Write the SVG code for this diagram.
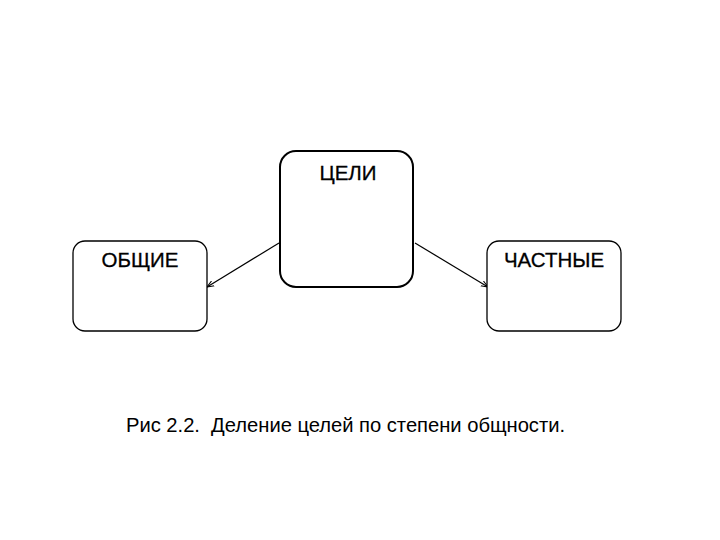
<svg xmlns="http://www.w3.org/2000/svg" width="720" height="540" viewBox="0 0 720 540">
<style>
.box{fill:#fff;stroke:#000;stroke-width:1.3}
.main{stroke-width:2}
.lbl{font-family:"Liberation Sans",Arial,sans-serif;font-size:20.5px;fill:#000;text-anchor:middle;stroke:#000;stroke-width:0.3}
.cap{font-family:"Liberation Sans",Arial,sans-serif;font-size:20.2px;fill:#000;white-space:pre}
.con{stroke:#000;stroke-width:1.2;fill:none}
</style>
<defs>
<marker id="ah" viewBox="0 0 10 10" refX="10" refY="5" markerWidth="7" markerHeight="7" orient="auto" markerUnits="userSpaceOnUse">
<path d="M0,1 L10,5 L0,9" fill="none" stroke="#000" stroke-width="1.5"/>
</marker>
</defs>
<rect width="720" height="540" fill="#fff"/>
<g id="connectors">
<line class="con" x1="279" y1="243" x2="207" y2="287" marker-end="url(#ah)"/>
<line class="con" x1="415" y1="243" x2="488" y2="287" marker-end="url(#ah)"/>
</g>
<g id="celi">
<rect class="box main" x="280" y="151" width="133" height="136" rx="16"/>
<text class="lbl" x="348" y="180">ЦЕЛИ</text>
</g>
<g id="obshie">
<rect class="box" x="73" y="241" width="134" height="90" rx="12"/>
<text class="lbl" x="140" y="267">ОБЩИЕ</text>
</g>
<g id="chastnye">
<rect class="box" x="487" y="241" width="134" height="90" rx="12"/>
<text class="lbl" x="554" y="267">ЧАСТНЫЕ</text>
</g>
<text class="cap" x="126" y="432" textLength="439" xml:space="preserve">Рис 2.2.  Деление целей по степени общности.</text>
</svg>
